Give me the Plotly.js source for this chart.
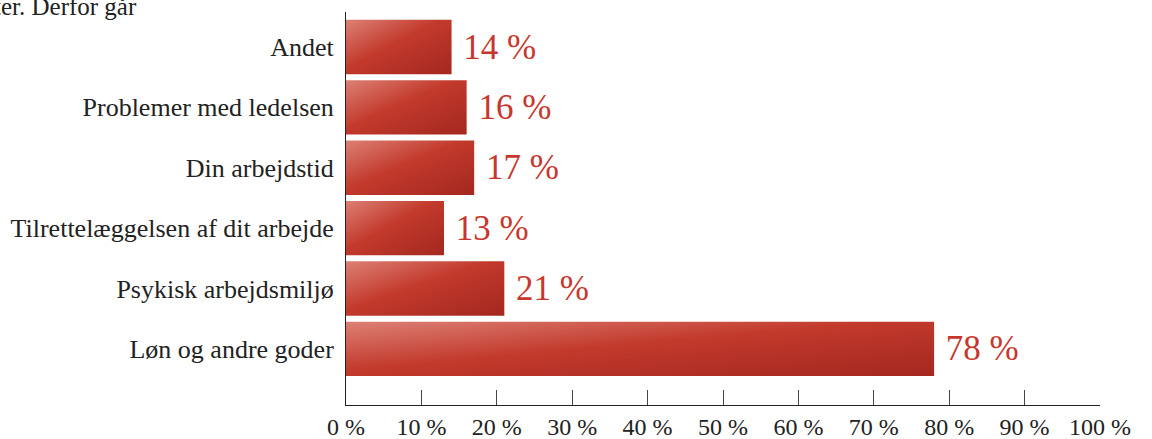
<!DOCTYPE html>
<html><head><meta charset="utf-8">
<script src="https://cdn.plot.ly/plotly-3.0.1.min.js"></script>
<style>html,body{margin:0;padding:0;background:#fff}#chart{width:1152px;height:439px}</style>
</head><body><div id="chart"></div>
<script>
const categories = ["Løn og andre goder","Psykisk arbejdsmiljø","Tilrettelæggelsen af dit arbejde","Din arbejdstid","Problemer med ledelsen","Andet"];
const values = [78, 21, 13, 17, 16, 14];
const tickValues = [0,10,20,30,40,50,60,70,80,90,100];
const tickLabels = tickValues.map(v => v + " %");
const titleFragment = "ter. Derfor går";

const serif = "Liberation Serif, Times New Roman, serif";
const trace = {
  type: "bar", orientation: "h",
  y: categories, x: values,
  width: 0.9,
  marker: {color: "#bf362b", line: {width: 0}},
  text: values.map(v => "\u00a0" + v + " %"),
  textposition: "outside",
  cliponaxis: false,
  constraintext: "none",
  textfont: {family: serif, size: 35, color: "#c8372d"},
  hoverinfo: "none"
};
const layout = {
  width: 1152, height: 439,
  margin: {l: 346, r: 52, t: 12, b: 34},
  paper_bgcolor: "#fff", plot_bgcolor: "#fff",
  showlegend: false,
  font: {family: serif, size: 24, color: "#222"},
  xaxis: {
    range: [0, 100], tickvals: tickValues, ticktext: tickLabels,
    ticks: "inside", ticklen: 15, tickcolor: "#444", tickwidth: 1,
    showline: true, linecolor: "#222", linewidth: 1,
    showgrid: false, zeroline: false, ticklabelstandoff: 0,
    tickfont: {family: serif, size: 24, color: "#222"}, fixedrange: true
  },
  yaxis: {
    type: "category", range: [-0.93, 5.58],
    showline: true, linecolor: "#222", linewidth: 1,
    ticks: "", showgrid: false, zeroline: false, ticklabelstandoff: 6,
    tickfont: {family: serif, size: 26, color: "#222"}, fixedrange: true
  },
  annotations: [{
    text: titleFragment, xref: "paper", yref: "paper",
    x: -0.47, y: 1.015, xanchor: "left", yanchor: "middle",
    showarrow: false, font: {family: serif, size: 25, color: "#222"}
  }]
};
Plotly.newPlot("chart", [trace], layout, {staticPlot: true}).then(gd => {
  const svg = gd.querySelector("svg.main-svg");
  const ns = "http://www.w3.org/2000/svg";
  let defs = svg.querySelector("defs");
  if (!defs) { defs = document.createElementNS(ns, "defs"); svg.insertBefore(defs, svg.firstChild); }
  const g = document.createElementNS(ns, "linearGradient");
  g.setAttribute("id", "barGrad");
  g.setAttribute("x1", "0"); g.setAttribute("y1", "0");
  g.setAttribute("x2", "1"); g.setAttribute("y2", "1");
  [["0", "#dd8075"], ["0.45", "#c23a2c"], ["1", "#a4271f"]].forEach(([o, c]) => {
    const s = document.createElementNS(ns, "stop");
    s.setAttribute("offset", o); s.setAttribute("stop-color", c);
    g.appendChild(s);
  });
  defs.appendChild(g);
  gd.querySelectorAll(".barlayer .point path").forEach(p => { p.style.fill = "url(#barGrad)"; });
});
</script></body></html>
